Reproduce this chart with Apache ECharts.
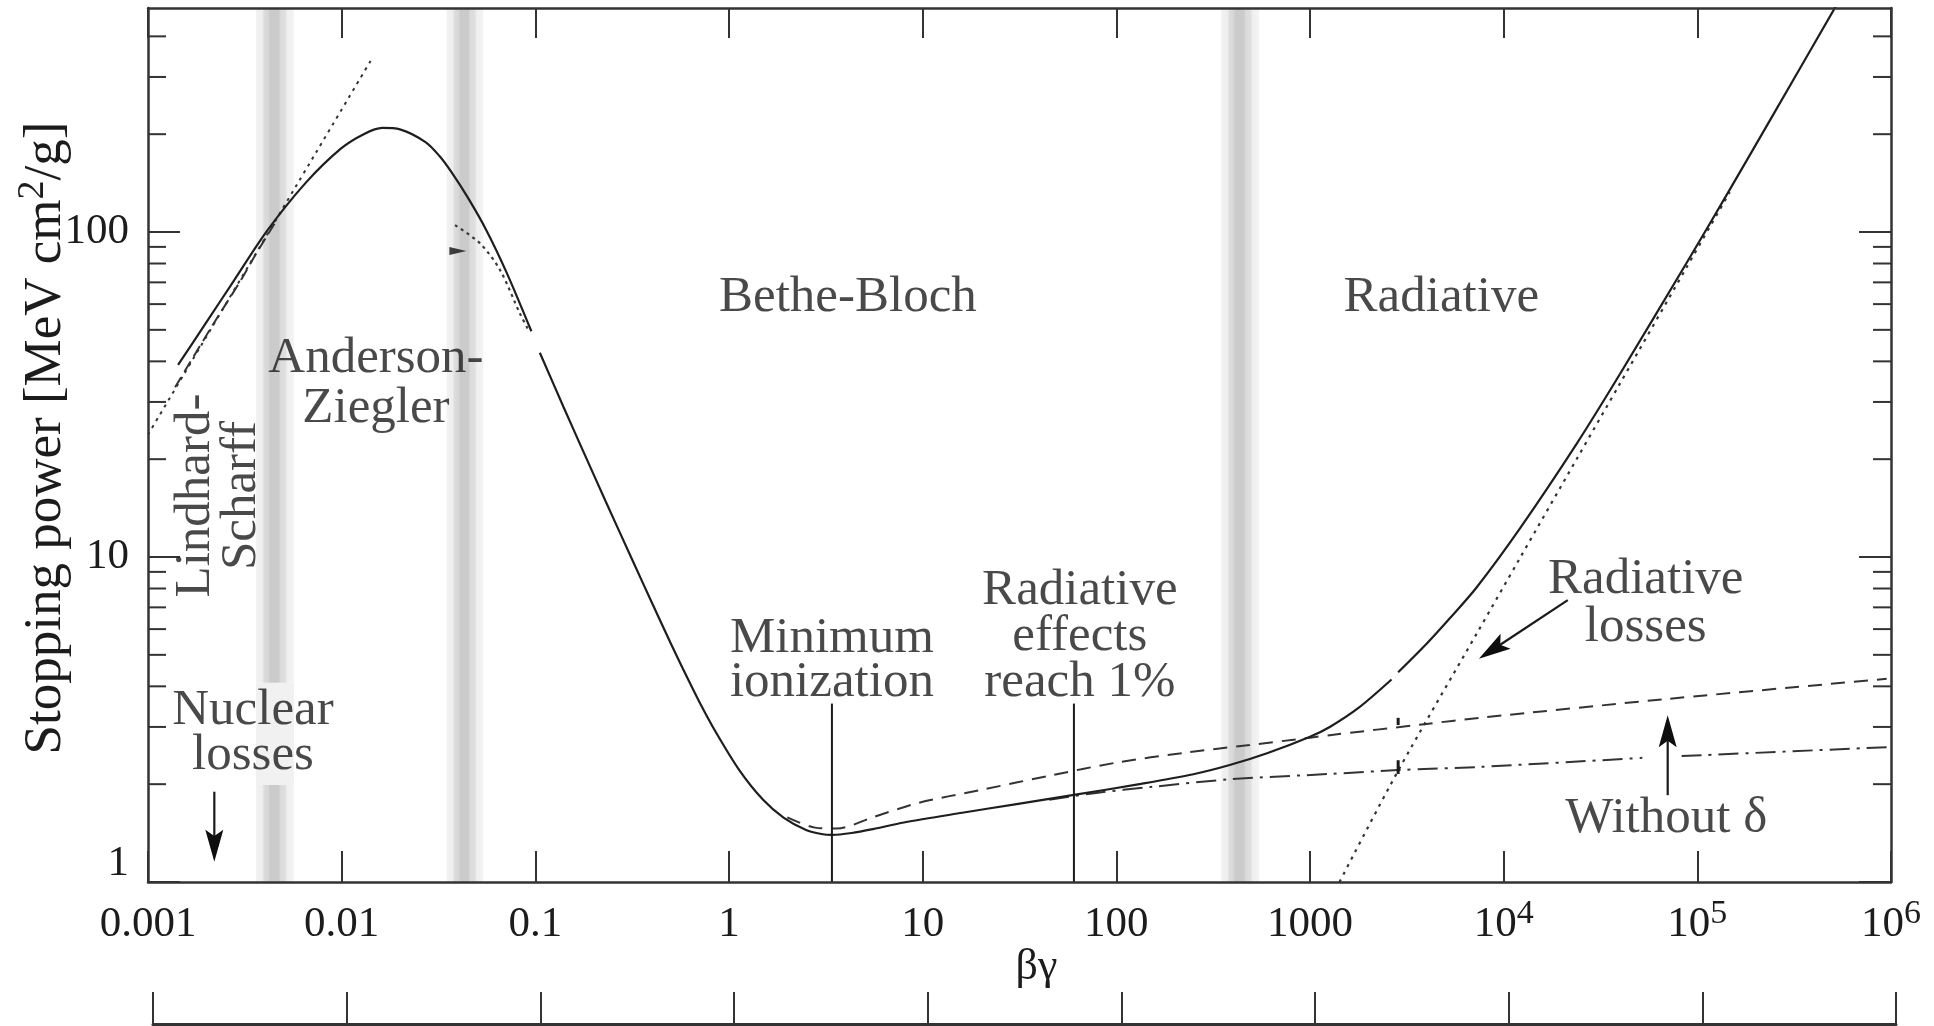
<!DOCTYPE html>
<html>
<head>
<meta charset="utf-8">
<script src="https://cdn.jsdelivr.net/npm/echarts@6/dist/echarts.min.js"></script>
<style>
  html, body { margin: 0; padding: 0; background: #ffffff; }
  #chart { width: 1934px; height: 1026px; }
</style>
</head>
<body>
<div id="chart"></div>
<script>
// Mass stopping power of copper for positive muons, plotted against βγ.

// Total stopping power, low-energy branch (Lindhard-Scharff / Anderson-Ziegler)
const lowBetaGamma = [0.00143, 0.002, 0.0028, 0.0041, 0.0065, 0.0099, 0.013, 0.0162, 0.02, 0.0272, 0.032, 0.0369, 0.045, 0.0561, 0.0711, 0.0954];
const lowStopping  = [39, 52.7, 71.4, 100.5, 141.4, 180.5, 200, 209, 207, 188.8, 171.3, 152.8, 127.1, 100.8, 75, 49.5];

// Total stopping power, Bethe-Bloch branch up to the radiative rise
const midBetaGamma = [0.1055, 0.14, 0.171, 0.23, 0.323, 0.40, 0.50, 0.578, 0.70, 0.85, 1.13, 1.5, 1.92, 2.5, 3.0, 3.4, 4.3, 5.55, 8, 16, 30, 60.4, 134, 250, 385, 600, 1000, 1265, 1786, 2636];
const midStopping  = [42.5, 28.9, 22.1, 14.9, 9.55, 7.23, 5.43, 4.53, 3.60, 2.91, 2.21, 1.79, 1.575, 1.445, 1.405, 1.396, 1.415, 1.455, 1.524, 1.633, 1.734, 1.853, 2.004, 2.146, 2.29, 2.49, 2.80, 3.0, 3.44, 4.2];

// Total stopping power, radiative regime
const highBetaGamma = [2852, 4000, 5272, 7244, 12190, 23800, 40000, 87500, 147000, 250000, 530000];
const highStopping  = [4.42, 5.41, 6.48, 8.06, 12.3, 22.3, 36.7, 79.9, 135, 233, 506];

// Radiative losses alone
const radBetaGamma = [1420, 2852, 7244, 12190, 23800, 40000, 87500, 147000];
const radStopping  = [1.0, 2.2, 5.8, 9.97, 20.0, 34.3, 77.4, 132.7];

// Ionization without density-effect correction
const noDeltaBetaGamma = [2.0, 2.78, 3.6, 5.5, 9.44, 20, 46.3, 100, 227, 489, 1000, 1265, 3890, 7530, 67500, 950000];
const noDeltaStopping  = [1.58, 1.47, 1.46, 1.58, 1.75, 1.92, 2.13, 2.33, 2.50, 2.64, 2.78, 2.83, 3.06, 3.20, 3.65, 4.22];

// Ionization losses with density effect (two pieces, broken at the label arrow)
const ionBetaGamma  = [45, 78.7, 150, 385, 1265, 2852, 7530, 52000];
const ionStopping   = [1.79, 1.88, 1.96, 2.07, 2.15, 2.21, 2.26, 2.41];
const ionBetaGamma2 = [83000, 950000];
const ionStopping2  = [2.44, 2.60];

// μ⁻ at low energy
const muMinusBetaGamma = [0.00138, 0.00217, 0.0030, 0.00364, 0.0045];
const muMinusStopping  = [33.3, 52, 70.7, 86.3, 106];

// Lindhard-Scharff extrapolation
const lindhardBetaGamma = [0.001, 0.0141];
const lindhardStopping  = [23.8, 336];

// Anderson-Ziegler / Bethe-Bloch junction
const junctionBetaGamma = [0.0385, 0.0518, 0.0657, 0.0832, 0.092];
const junctionStopping  = [105, 92.3, 76.4, 56.2, 50];

// Small marker near the junction
const junctionMarker = [0.0398, 87.4];

// Shaded transition bands (βγ ranges) and the clear stretch behind the nuclear-losses note
const bandRanges = [[0.00361, 0.00567], [0.03484, 0.05383], [347.9, 546.7]];
const bandClear = [1.99, 4.1];

// Vertical guides: [βγ from, S from, βγ to, S to]
const minIonGuide = [3.40, 1, 3.40, 3.54];
const radOnePctGuide = [60.4, 1, 60.4, 3.54];
const breakMarks = [[2852, 3.04, 2852, 3.20], [2852, 2.15, 2852, 2.37]];

// Arrows: [βγ tail, S tail, βγ tip, S tip]
const nuclearArrow = [0.0022, 1.896, 0.0022, 1.155];
const radiativeArrow = [21430, 7.37, 7447, 4.86];
const withoutDeltaArrow = [70300, 1.85, 70300, 3.26];

// Tick labels
const xTickLabels = ['0.001', '0.01', '0.1', '1', '10', '100', '1000', '10^4', '10^5', '10^6'];
const yTickLabels = ['1', '10', '100'];

// Text notes: [text, βγ, S, rotation, line height]
const notes = [
  ['Anderson-\nZiegler', 0.01503, 35.3, 0, 50],
  ['Lindhard-', 0.00176, 15.46, 90, 50],
  ['Scharff', 0.00305, 15.46, 90, 50],
  ['Nuclear\nlosses', 0.003484, 2.967, 0, 45],
  ['Bethe-Bloch', 4.11, 64.9, 0, 50],
  ['Radiative', 4764, 64.9, 0, 50],
  ['Minimum\nionization', 3.40, 4.98, 0, 44],
  ['Radiative\neffects\nreach 1%', 64.8, 5.90, 0, 46],
  ['Radiative\nlosses', 54150, 7.45, 0, 48],
  ['Without δ', 69100, 1.625, 0, 50]
];

const FONT = "'Liberation Serif', 'DejaVu Serif', serif";
const INK = '#1c1c1c';
const X_MIN = 0.001, X_MAX = 1e6, Y_MIN = 1, Y_MAX = 489;

const pairs = (xs, ys) => xs.map((x, i) => [x, ys[i]]);

const yTickData = [];
[1, 10, 100].forEach(d => {
  for (let m = 1; m <= 9; m++) {
    const v = m * d;
    if (v <= Y_MAX) yTickData.push([X_MIN, v, m === 1 ? 1 : 0]);
  }
});

const bandGradient = {
  type: 'linear', x: 0, y: 0, x2: 1, y2: 0,
  colorStops: [
    { offset: 0.00, color: '#f2f2f2' },
    { offset: 0.17, color: '#eeeeee' },
    { offset: 0.21, color: '#dddddd' },
    { offset: 0.33, color: '#d6d6d6' },
    { offset: 0.37, color: '#cbcbcb' },
    { offset: 0.60, color: '#cbcbcb' },
    { offset: 0.64, color: '#dadada' },
    { offset: 0.78, color: '#e0e0e0' },
    { offset: 0.82, color: '#efefef' },
    { offset: 1.00, color: '#f4f4f4' }
  ]
};

const bandAreas = [];
bandRanges.forEach((r, i) => {
  if (i === 0) {
    bandAreas.push([{ xAxis: r[0], yAxis: Y_MIN }, { xAxis: r[1], yAxis: bandClear[0] }]);
    bandAreas.push([{ xAxis: r[0], yAxis: bandClear[0], itemStyle: { color: '#f1f1f1' } }, { xAxis: r[1], yAxis: bandClear[1] }]);
    bandAreas.push([{ xAxis: r[0], yAxis: bandClear[1] }, { xAxis: r[1], yAxis: Y_MAX }]);
  } else {
    bandAreas.push([{ xAxis: r[0], yAxis: Y_MIN }, { xAxis: r[1], yAxis: Y_MAX }]);
  }
});

function curve(name, xs, ys, style, z) {
  return {
    name, type: 'line', data: pairs(xs, ys),
    showSymbol: false, symbol: 'none', silent: true,
    smooth: 0.3, clip: true,
    lineStyle: Object.assign({ color: '#1e1e1e', width: 2 }, style),
    z: z || 3
  };
}

function renderYTicks(params, api) {
  const v = api.value(1);
  const major = api.value(2) === 1;
  const left = api.coord([X_MIN, v]);
  const right = api.coord([X_MAX, v]);
  const len = major ? 32 : 18;
  const style = { stroke: '#333333', lineWidth: 2 };
  return {
    type: 'group',
    children: [
      { type: 'line', shape: { x1: left[0], y1: left[1], x2: left[0] + len, y2: left[1] }, style },
      { type: 'line', shape: { x1: right[0] - len, y1: right[1], x2: right[0], y2: right[1] }, style }
    ]
  };
}

function renderPointer(params, api) {
  const p1 = api.coord([api.value(0), api.value(1)]);
  const p2 = api.coord([api.value(2), api.value(3)]);
  const head = api.value(4) === 1;
  const width = api.value(5);
  if (!head) {
    return { type: 'line', shape: { x1: p1[0], y1: p1[1], x2: p2[0], y2: p2[1] }, style: { stroke: '#1a1a1a', lineWidth: width } };
  }
  const dx = p2[0] - p1[0], dy = p2[1] - p1[1];
  const d = Math.sqrt(dx * dx + dy * dy) || 1;
  const ux = dx / d, uy = dy / d;
  const nx = -uy, ny = ux;
  const L = 32, W = 9;
  const bx = p2[0] - ux * L, by = p2[1] - uy * L;
  const kx = p2[0] - ux * L * 0.8, ky = p2[1] - uy * L * 0.8;
  return {
    type: 'group',
    children: [
      { type: 'line', shape: { x1: p1[0], y1: p1[1], x2: kx, y2: ky }, style: { stroke: '#1a1a1a', lineWidth: width } },
      { type: 'polygon', shape: { points: [[p2[0], p2[1]], [bx + nx * W, by + ny * W], [kx, ky], [bx - nx * W, by - ny * W]] }, style: { fill: '#0e0e0e' } }
    ]
  };
}

const pointerData = [
  nuclearArrow.concat([1, 2.2]),
  radiativeArrow.concat([1, 2.2]),
  withoutDeltaArrow.concat([1, 2.2]),
  minIonGuide.concat([0, 2]),
  radOnePctGuide.concat([0, 2]),
  breakMarks[0].concat([0, 3]),
  breakMarks[1].concat([0, 3])
];

const noteData = notes.map(n => ({
  name: n[0],
  value: [n[1], n[2]],
  label: { rotate: n[3], lineHeight: n[4], offset: n[3] ? [0, 0] : [0, 5] }
}));

const baseLabel = { fontFamily: FONT, fontSize: 43, color: INK, lineHeight: 56 };

const option = {
  backgroundColor: '#ffffff',
  animation: false,
  textStyle: { fontFamily: FONT, color: INK },
  grid: [
    { left: 148, top: 8, width: 1743, height: 874, containLabel: false, outerBoundsMode: 'none' },
    { left: 153, top: 990, width: 1743, height: 34, containLabel: false, outerBoundsMode: 'none' }
  ],
  xAxis: [
    {
      gridIndex: 0, type: 'log', logBase: 10, min: X_MIN, max: X_MAX, splitNumber: 9,
      position: 'bottom', z: 5,
      axisLine: { show: true, onZero: false, lineStyle: { color: '#333333', width: 2.5 } },
      axisTick: { show: true, inside: true, length: 31, lineStyle: { color: '#333333', width: 2 } },
      minorTick: { show: false }, splitLine: { show: false }, minorSplitLine: { show: false },
      axisLabel: {
        show: true, margin: 15, interval: 0, showMinLabel: true, showMaxLabel: true, hideOverlap: false,
        formatter: v => {
          const e = Math.round(Math.log10(v));
          const t = xTickLabels[e + 3];
          if (t === undefined) return '';
          const parts = t.split('^');
          return parts.length === 2 ? '{b|' + parts[0] + '}{s|' + parts[1] + '}' : '{b|' + t + '}';
        },
        rich: {
          b: baseLabel,
          s: { fontFamily: FONT, fontSize: 34, color: INK, lineHeight: 32, verticalAlign: 'top' }
        }
      },
      name: 'βγ', nameLocation: 'middle', nameGap: 63, nameMoveOverlap: false,
      nameTextStyle: { fontFamily: FONT, fontSize: 44, color: INK, padding: [0, 0, 0, 34] }
    },
    {
      gridIndex: 0, type: 'log', logBase: 10, min: X_MIN, max: X_MAX, splitNumber: 9,
      position: 'top', z: 5,
      axisLine: { show: true, onZero: false, lineStyle: { color: '#333333', width: 2.5 } },
      axisTick: { show: true, inside: true, length: 30, lineStyle: { color: '#333333', width: 2 } },
      axisLabel: { show: false }, splitLine: { show: false }, minorTick: { show: false }
    },
    {
      gridIndex: 1, type: 'log', logBase: 10, min: X_MIN, max: X_MAX, splitNumber: 9,
      position: 'bottom', z: 5,
      axisLine: { show: true, onZero: false, lineStyle: { color: '#333333', width: 3 } },
      axisTick: { show: true, inside: true, length: 32, lineStyle: { color: '#333333', width: 2 } },
      axisLabel: { show: false }, splitLine: { show: false }, minorTick: { show: false }
    }
  ],
  yAxis: [
    {
      gridIndex: 0, type: 'log', logBase: 10, min: Y_MIN, max: Y_MAX, splitNumber: 3,
      position: 'left', z: 5,
      axisLine: { show: true, onZero: false, lineStyle: { color: '#333333', width: 2.5 } },
      axisTick: { show: false }, minorTick: { show: false },
      splitLine: { show: false }, minorSplitLine: { show: false },
      axisLabel: {
        show: true, margin: 19, showMinLabel: true, showMaxLabel: true, hideOverlap: false,
        formatter: v => {
          const e = Math.log10(v);
          const k = Math.round(e);
          if (Math.abs(e - k) > 1e-6) return '';
          const t = yTickLabels[k];
          if (t === undefined) return '';
          return k === 0 ? '{low|' + t + '}' : '{b|' + t + '}';
        },
        rich: {
          b: baseLabel,
          low: Object.assign({}, baseLabel, { padding: [0, 0, 36, 0] })
        }
      },
      name: '{m|Stopping power [MeV cm}{s|2}{m|/g]}',
      nameLocation: 'middle', nameGap: 70, nameRotate: 90, nameMoveOverlap: false,
      nameTextStyle: {
        fontFamily: FONT, fontSize: 53, color: INK, padding: [0, 0, 0, 14],
        rich: {
          m: { fontFamily: FONT, fontSize: 53, color: INK, lineHeight: 64 },
          s: { fontFamily: FONT, fontSize: 38, color: INK, lineHeight: 38, verticalAlign: 'top' }
        }
      }
    },
    {
      gridIndex: 0, type: 'log', logBase: 10, min: Y_MIN, max: Y_MAX, splitNumber: 3,
      position: 'right', z: 5,
      axisLine: { show: true, onZero: false, lineStyle: { color: '#333333', width: 2.5 } },
      axisTick: { show: false }, axisLabel: { show: false }, splitLine: { show: false }, minorTick: { show: false }
    },
    { gridIndex: 1, type: 'value', show: false, min: 0, max: 1 }
  ],
  series: [
    {
      name: 'bands', type: 'line', data: [], silent: true, z: 1,
      markArea: { silent: true, itemStyle: { color: bandGradient, borderWidth: 0 }, label: { show: false }, data: bandAreas }
    },
    {
      name: 'yTicks', type: 'custom', coordinateSystem: 'cartesian2d', silent: true, z: 4,
      renderItem: renderYTicks, data: yTickData
    },
    curve('lindhard', lindhardBetaGamma, lindhardStopping, { type: [3, 5], color: '#333333', width: 2 }),
    curve('muMinus', muMinusBetaGamma, muMinusStopping, { type: [12, 6], color: '#333333', width: 2 }),
    curve('junction', junctionBetaGamma, junctionStopping, { type: [3, 4], color: '#3a3a3a', width: 2.2 }),
    curve('radiative', radBetaGamma, radStopping, { type: [3, 5.5], color: '#333333', width: 2.2 }),
    curve('noDelta', noDeltaBetaGamma, noDeltaStopping, { type: [14, 9], color: '#333333', width: 2 }),
    curve('ionization', ionBetaGamma, ionStopping, { type: [20, 7, 3, 7], color: '#333333', width: 2 }),
    curve('ionization2', ionBetaGamma2, ionStopping2, { type: [20, 7, 3, 7], color: '#333333', width: 2 }),
    curve('totalLow', lowBetaGamma, lowStopping, { width: 2.2 }),
    curve('totalMid', midBetaGamma, midStopping, { width: 2.2 }),
    curve('totalHigh', highBetaGamma, highStopping, { width: 2.2 }),
    {
      name: 'junctionMarker', type: 'scatter', data: [junctionMarker], silent: true, z: 5,
      symbol: 'triangle', symbolRotate: -90, symbolSize: [8, 17], itemStyle: { color: '#111111' }
    },
    {
      name: 'pointers', type: 'custom', coordinateSystem: 'cartesian2d', silent: true, z: 5,
      renderItem: renderPointer, data: pointerData
    },
    {
      name: 'notes', type: 'scatter', data: noteData, silent: true, z: 6,
      symbolSize: 0, itemStyle: { color: 'transparent' },
      label: {
        show: true, position: 'inside', align: 'center', verticalAlign: 'middle',
        formatter: p => p.name, fontFamily: FONT, fontSize: 51, color: INK
      }
    }
  ]
};

const chart = echarts.init(document.getElementById('chart'), null, { renderer: 'canvas', width: 1934, height: 1026 });
chart.setOption(option);
</script>
</body>
</html>
